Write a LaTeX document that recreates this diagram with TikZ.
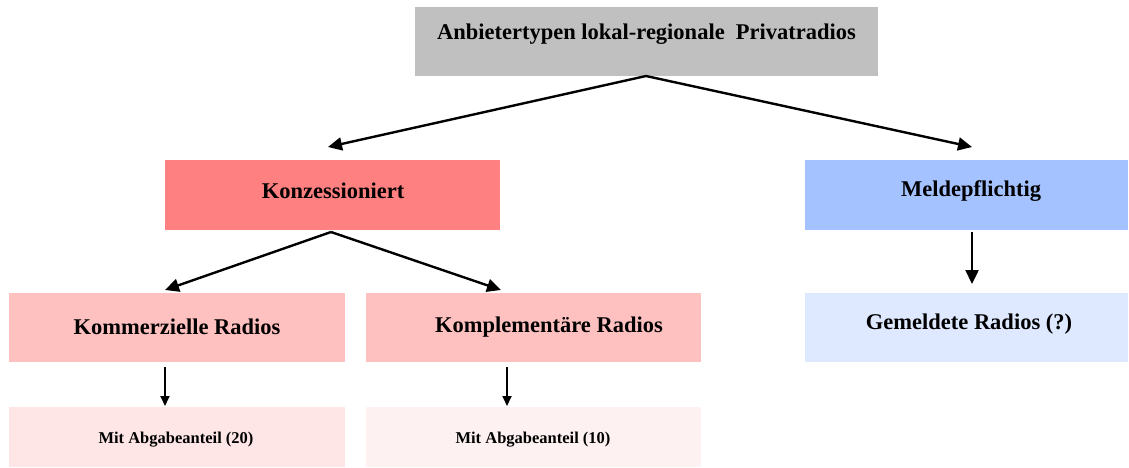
\documentclass[tikz,border=0pt]{standalone}
\usepackage{fontspec}
\setmainfont{Liberation Serif}
\usetikzlibrary{arrows.meta}
\definecolor{cgray}{HTML}{C0C0C0}
\definecolor{kred}{HTML}{FF8080}
\definecolor{kpink}{HTML}{FFC0C0}
\definecolor{klight}{HTML}{FFE6E6}
\definecolor{klighter}{HTML}{FDF1F1}
\definecolor{mblue}{HTML}{A4C2FF}
\definecolor{mlight}{HTML}{DEE8FF}
\tikzset{
  box/.style={draw=none, inner sep=0pt, font=\bfseries\fontsize{22.5}{26}\selectfont},
  smallbox/.style={draw=none, inner sep=0pt, font=\bfseries\fontsize{16.5}{19}\selectfont},
  bigarr/.style={line width=2.4pt, -{Triangle[length=14pt,width=13pt]}},
  smallarr/.style={line width=1.8pt, -{Triangle[length=10pt,width=9pt]}}
}
\begin{document}
\begin{tikzpicture}[x=1pt,y=-1pt]
\useasboundingbox (0,0) rectangle (1129,468);
% boxes
\fill[cgray] (415,7) rectangle (878,76);
\node[box] (top) at (646.5,34) {Anbietertypen lokal-regionale\ \ Privatradios};
\coordinate (topb) at (646,76);
\fill[kred] (165,160) rectangle (500,230);
\node[box] (konz) at (333,191) {Konzessioniert};
\coordinate (konzb) at (331,232);
\fill[mblue] (805,160) rectangle (1128,230);
\node[box] (meld) at (971,191) {Meldepflichtig};
\coordinate (meldb) at (972,232);
\fill[kpink] (9,293) rectangle (345,362);
\node[box] (komm) at (177,327) {Kommerzielle Radios};
\coordinate (kommt) at (165,290);
\fill[kpink] (366,293) rectangle (701,362);
\node[box] (kompl) at (549,327) {Komplementäre Radios};
\coordinate (komplt) at (501,290);
\fill[mlight] (805,293) rectangle (1128,362);
\node[box] (geml) at (969,324) {Gemeldete Radios (?)};
\coordinate (gemlt) at (972,284);
\fill[klight] (9,407) rectangle (345,467);
\node[smallbox] (ab20) at (176,440) {Mit Abgabeanteil (20)};
\fill[klighter] (366,407) rectangle (701,467);
\node[smallbox] (ab10) at (533,440) {Mit Abgabeanteil (10)};
\coordinate (kommb) at (165,367);
\coordinate (ab20t) at (165,406);
\coordinate (komplb) at (507,367);
\coordinate (ab10t) at (507,406);
\coordinate (konzt) at (328,147);
\coordinate (meldt) at (972,147);
% arrows
\draw[bigarr] (topb) -- (konzt);
\draw[bigarr] (topb) -- (meldt);
\draw[bigarr] (konzb) -- (kommt);
\draw[bigarr] (konzb) -- (komplt);
\draw[bigarr] (meldb) -- (gemlt);
\draw[smallarr] (kommb) -- (ab20t);
\draw[smallarr] (komplb) -- (ab10t);
\end{tikzpicture}
\end{document}
